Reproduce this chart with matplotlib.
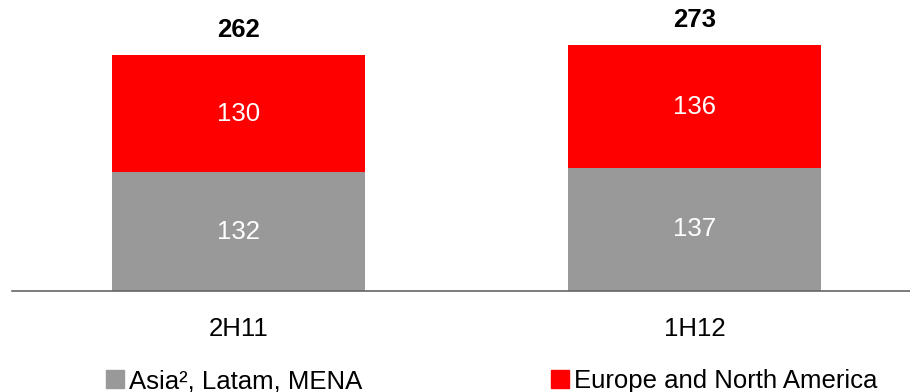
import numpy as np
import matplotlib
matplotlib.use("Agg")
import matplotlib.pyplot as plt
from matplotlib.patches import Patch

periods = ["2H11", "1H12"]
asia_latam_mena = [132, 137]
europe_na = [130, 136]
totals = [262, 273]

GRAY = "#999999"
RED = "#ff0000"
FS = 18.5

plt.rcParams["font.family"] = ["Liberation Sans", "DejaVu Sans"]

fig = plt.figure(figsize=(9.1, 3.92), dpi=100)
ax = fig.add_axes([12 / 910, 101 / 392, 898 / 910, 291 / 392])

x = np.arange(len(periods))
w = 0.555
ax.bar(x, asia_latam_mena, w, color=GRAY)
ax.bar(x, europe_na, w, bottom=asia_latam_mena, color=RED)

for i in range(len(periods)):
    ax.text(x[i], asia_latam_mena[i] / 2, str(asia_latam_mena[i]),
            ha="center", va="center", color="white", fontsize=FS)
    ax.text(x[i], asia_latam_mena[i] + europe_na[i] / 2, str(europe_na[i]),
            ha="center", va="center", color="white", fontsize=FS)
    ax.annotate(str(totals[i]), (x[i], totals[i]), xytext=(0, 18),
                textcoords="offset points", ha="center", va="center",
                fontsize=FS, fontweight="bold")

ax.set_xlim(-226.5 / 456, 671.5 / 456)
ax.set_ylim(0, 291 / 0.9)
ax.set_xticks(x)
ax.set_xticklabels(periods, fontsize=FS)
ax.tick_params(axis="x", length=0, pad=19)
ax.set_yticks([])
for s in ["top", "right", "left"]:
    ax.spines[s].set_visible(False)
ax.spines["bottom"].set_color("#666666")
ax.spines["bottom"].set_linewidth(1.2)

handles = [Patch(color=GRAY), Patch(color=RED)]
fig.legend(handles, ["Asia², Latam, MENA", "Europe and North America"],
           loc="center left", bbox_to_anchor=(106 / 910, 1 - 381 / 392),
           ncol=2, frameon=False, fontsize=FS, handlelength=0.7,
           handleheight=0.65, handletextpad=0.2, columnspacing=7.35,
           borderpad=0, borderaxespad=0)

plt.savefig("out.png", dpi=100)
plt.close("all")
